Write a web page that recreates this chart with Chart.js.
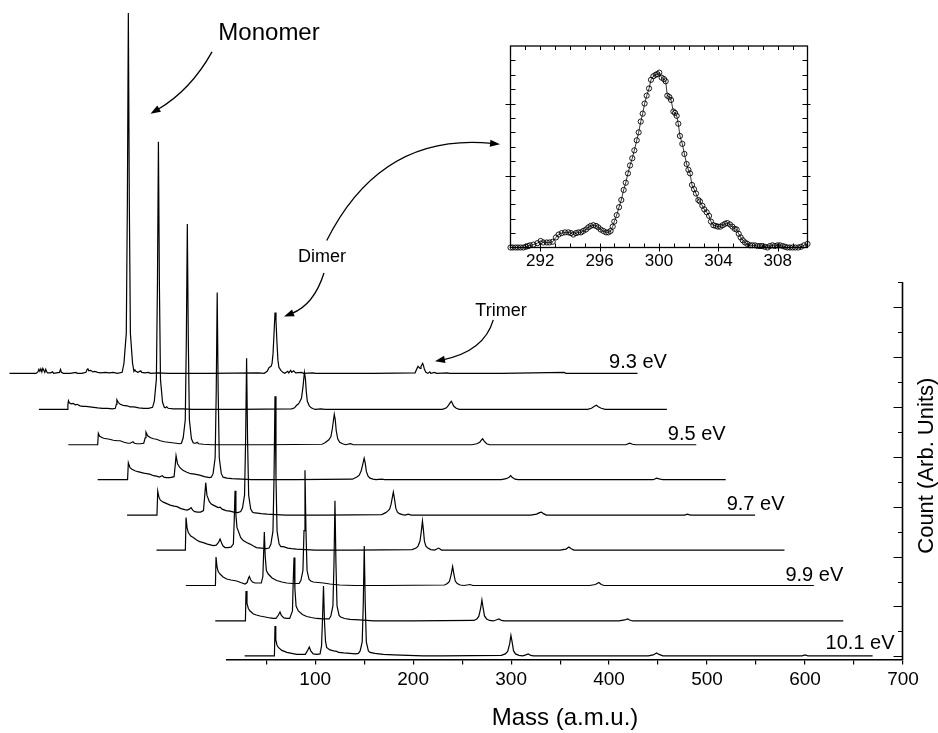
<!DOCTYPE html>
<html>
<head>
<meta charset="utf-8">
<script src="https://cdn.jsdelivr.net/npm/chart.js@4.4.1/dist/chart.umd.min.js"></script>
<style>
  body { margin: 0; background: #fff; }
  #wrap { position: relative; width: 938px; height: 733px; }
  #main { position: absolute; left: 0; top: 0; }
  #inset { position: absolute; left: 470px; top: 20px; }
</style>
</head>
<body>
<div id="wrap">
  <canvas id="main" width="938" height="733"></canvas>
  <canvas id="inset" width="360" height="265"></canvas>
</div>
<script>
// spectra, one list of [mass, count] per photon energy (bottom trace first)
const trace101 = [[28,0],[58.4,0],[59,60],[59.8,32],[61,22],[62.4,17],[66,11],[71.1,7],[76,5],[81.3,3],[86,3],[90,3],[92.5,12],[94,18],[95.5,10],[98,4],[102,3],[105,4],[106.5,20],[107.5,75],[108.5,140],[109.5,70],[110.5,30],[111.7,17],[115,12],[119,10],[122,9],[124,7],[129,6],[135.5,5],[141,4],[144.1,5],[145.9,10],[148,28],[149.1,105],[150.1,220],[151.1,105],[152.2,28],[154.3,10],[156,7],[161,5],[165,4],[169.5,3],[180,2],[195,1],[210,0],[230,0],[290,1],[294,4],[296.5,9],[298.5,24],[299.8,41],[301,28],[302.5,10],[304.5,4],[308,1],[312,0],[315,2],[317.5,4],[320,1],[323,0],[440,0],[445,2],[448.5,6],[451,3],[455,0],[597,0],[600,2],[603,0],[669,0]];
const trace100 = [[28,0],[58.8,0],[59.4,60],[60.4,35],[61.8,25],[63.5,20],[67,14],[70,12],[73.7,10],[79,8],[84,6],[87.2,5],[90,5],[92.5,12],[94.1,18],[95.5,11],[98,6],[101,5],[104,5],[106.8,20],[107.6,80],[108.4,127],[109.3,65],[110.5,30],[112.8,20],[117,13],[121.3,9],[126,7],[131.5,5],[138,4],[144.2,4],[146,10],[148.1,30],[149.2,115],[150.2,241],[151.2,115],[152.3,30],[154.4,11],[156,8],[160,5],[165.5,3],[175,2],[190,0],[230,0],[292,1],[295,4],[297,9],[299,26],[300.2,42],[301.3,28],[302.8,10],[305,4],[308,1],[312,0],[316,3],[317.6,4],[320,1],[323,0],[440,0],[446,2],[448.9,4],[451,2],[454,0],[669,0]];
const trace99 = [[28,0],[58.2,0],[58.8,57],[59.8,38],[61,28],[62.9,23],[66,17],[69.7,13],[74,11],[79.9,9],[84,6],[88.4,3],[90.5,6],[92,15],[92.8,18],[94,12],[96,7],[98.6,5],[102,5],[105,5],[106.6,18],[107.4,65],[108.1,107],[109,58],[110.2,30],[112.1,23],[116,15],[120.7,10],[126,7],[131,5],[137,4],[143.6,4],[145.4,10],[147.5,30],[148.6,110],[149.6,231],[150.6,110],[151.7,30],[153.8,12],[155.5,9],[158,7],[163,6],[168.3,5],[175,3],[185,1],[200,0],[230,0],[292,1],[295,4],[297,8],[298.8,22],[300.3,38],[301.5,24],[303,9],[305,4],[308,1],[312,0],[318,2],[321,0],[440,0],[446,2],[449.6,6],[452,2],[455,0],[669,0]];
const trace98 = [[28,0],[57.5,0],[58.2,65],[59.2,45],[60.5,35],[63,28],[65.6,25],[69,20],[72,17],[75.8,15],[80,12],[86,9],[89,10],[91.5,16],[92.9,22],[94.5,14],[96,8],[98,5],[101,5],[104,6],[106.5,12],[107.4,60],[108.2,119],[109.1,70],[110.2,45],[111.6,38],[114,25],[116.6,19],[120,15],[123.5,12],[127,8],[130,5],[135,4],[140,3],[143,4],[144.8,12],[146.9,38],[148,145],[149,308],[150,145],[151.1,38],[153.2,12],[155,7],[157.5,7],[162,4],[166,3],[171,2],[180,1],[190,0],[230,0],[289,1],[293,4],[295,8],[297,18],[298.5,40],[299.5,58],[300.5,40],[301.5,18],[303,8],[305,4],[308,1],[312,0],[316,4],[319,0],[440,0],[446,2],[449,6],[451,3],[454,0],[669,0]];
const trace97 = [[28,0],[58.5,0],[59.3,48],[60.5,36],[62,30],[65,26],[68.5,23],[72,20],[76,18],[79,17],[83,13],[87,11],[89.5,10],[91.5,12],[93.3,15],[95,10],[97,7],[100,6],[103,6],[106,9],[107.3,40],[108.3,65],[109.5,40],[112,27],[114,22],[116,20],[119,17],[121,15],[123,16],[125,12],[129,9],[133,8],[137,6],[141,5],[144,7],[145.8,14],[147.9,40],[149,150],[150,314],[151,150],[152.1,40],[154.2,12],[156,6],[157,5],[161,4],[165,3],[171,2],[180,1],[190,0],[230,0],[288,1],[292,5],[294,8],[296,12],[297.5,22],[299,38],[299.8,46],[301,32],[302.3,14],[304,6],[306,3],[309,1],[312,0],[315,2],[318,0],[440,0],[446,2],[449,5],[451,6],[453,3],[456,0],[597,0],[600,2],[603,0],[669,0]];
const trace96 = [[28,0],[58.5,0],[59.3,34],[61,24],[63,21],[66,18],[69,16],[71,15],[75,13],[78,12],[81,11],[85,8],[88,7],[91,5],[92.5,7],[94,8],[95.5,5],[98,4],[102,4],[106,6],[107.2,30],[108,48],[109.5,32],[112,24],[115,19],[119,15],[123,12],[127,11],[132,9],[137,6],[142,4],[144,5],[145.8,12],[147.9,44],[149,175],[150,375],[151,175],[152.1,44],[154.2,12],[156,5],[160,3],[165,2],[175,1],[185,0],[230,0],[288,1],[291,4],[293,6],[295,9],[297,18],[298.5,30],[300,43],[301,34],[302.3,16],[304,7],[306,3],[309,1],[312,0],[318,1],[321,0],[440,0],[445,2],[448,5],[449.5,8],[451,5],[454,1],[457,0],[595,0],[598.5,3],[602,1],[605,0],[669,0]];
const trace95 = [[28,0],[58,0],[58.7,23],[60,17],[62,15],[64,13],[67,12],[70,11],[74,9],[78,8],[81,8],[85,5],[89,3],[91,3],[93,5],[94,6],[95.5,3],[98,2],[102,2],[105,3],[106.5,14],[107.3,25],[109,18],[112,14],[115,12],[118,11],[122,8],[126,6],[130,5],[134,4],[138,3],[142,2],[143.5,3],[145.3,14],[147.4,50],[148.5,210],[149.5,442],[150.5,210],[151.6,50],[153.7,12],[155.5,4],[156.5,3],[158,3],[159.5,5],[161,2],[166,1],[175,0],[230,0],[287,1],[290,4],[292,7],[294,10],[296,16],[297.5,32],[299.5,61],[300.5,50],[301.5,28],[303,12],[305,5],[308,2],[311,0],[316,2],[319,0],[440,0],[445,2],[448,5],[450,10],[451,12],[452.5,7],[455,2],[458,0],[597,0],[601,3],[604,1],[607,0],[669,0]];
const trace94 = [[28,0],[57,0],[57.6,10],[58.2,17],[59,13],[61,11],[63,12],[65,9],[67,10],[70,7],[73,6],[76,6],[80,5],[84,4],[88,3],[93,2],[98,2],[103,1],[106,2],[107,10],[107.6,19],[109,14],[111,10],[114,8],[118,7],[121,5],[125,5],[130,3],[135,2],[140,2],[144,4],[145.8,16],[147.9,60],[149,250],[150,536],[151,250],[152.1,60],[154.2,14],[156,4],[157,3],[158.5,5],[160,2],[165,1],[175,1],[185,0],[230,0],[286,1],[289,3],[291,8],[292.5,10],[294,14],[296,22],[297.5,44],[299,74],[300,62],[301,34],[302,16],[304,7],[306,3],[308,1],[310,0],[316,1],[320,0],[440,0],[444,3],[446,8],[448,14],[449,16],[450,12],[451.5,6],[454,2],[457,0],[588,0],[592,2],[595,6],[597,8],[599,5],[602,2],[606,0],[669,0]];
const trace93 = [[28,0],[40,0],[55,0],[57,3],[58,8],[59,4],[60,9],[61,3],[62,10],[63,6],[64,2],[65,8],[66,3],[67,1],[70,1],[72,3],[73,0],[76,1],[79,2],[80,8],[81,2],[83,0],[90,0],[96,2],[97,0],[102,0],[106,2],[107,7],[108,9],[109,5],[111,6],[113,3],[115,4],[118,2],[121,1],[126,2],[130,1],[134,2],[138,0],[143,2],[144.8,20],[147.2,80],[148.3,340],[149.3,722],[150.3,340],[151.4,80],[153.6,20],[155,4],[156,7],[157,4],[159,2],[162,5],[163,2],[166,1],[170,2],[172,0],[180,1],[190,0],[230,0],[282,1],[288,0],[291,4],[293,12],[295,14],[296,20],[297,40],[298,80],[299,122],[300,106],[301,62],[302,26],[303,12],[305,6],[307,2],[309,0],[312,4],[313,1],[315,6],[316,2],[318,5],[320,1],[326,2],[328,0],[338,1],[340,0],[400,0],[442,1],[444,10],[445,14],[446,12],[447,10],[448,14],[449.7,20],[450.5,16],[451.5,8],[453,2],[455,0],[457,3],[458,0],[462,2],[464,0],[475,1],[477,0],[530,0],[594,2],[596,0],[669,0]];

const energies = ['10.1 eV', '10.0 eV', '9.9 eV', '9.8 eV', '9.7 eV', '9.6 eV', '9.5 eV', '9.4 eV', '9.3 eV'];
// waterfall offset of each trace (mass and count)
const massShift = [0, -30, -60, -90, -120, -150, -180, -210, -240];
const countShift = [1, 71, 142, 213, 283, 354, 424, 495, 567];
const massTicks = [50, 100, 150, 200, 250, 300, 350, 400, 450, 500, 550, 600, 650, 700];
const countTicks = [0, 50, 100, 150, 200, 250, 300, 350, 400, 450, 500, 550, 600, 650, 700, 750];

// inset: dimer peak, [mass, count]
const insetPeak = [[290.00,0],[290.15,0],[290.33,0],[290.50,0],[290.68,0],[290.86,0],[291.04,0.01],[291.18,0.02],[291.31,0.03],[291.54,0.04],[291.81,0.06],[292.03,0.09],[292.21,0.07],[292.44,0.07],[292.62,0.07],[292.84,0.08],[293.06,0.14],[293.24,0.18],[293.45,0.20],[293.67,0.21],[293.89,0.21],[294.07,0.20],[294.23,0.18],[294.41,0.20],[294.57,0.21],[294.75,0.21],[294.90,0.23],[295.08,0.25],[295.24,0.28],[295.40,0.30],[295.58,0.31],[295.76,0.30],[295.91,0.28],[296.07,0.25],[296.25,0.23],[296.43,0.21],[296.59,0.21],[296.74,0.23],[296.88,0.29],[296.99,0.36],[297.15,0.45],[297.31,0.56],[297.46,0.66],[297.62,0.80],[297.76,0.90],[297.91,1.03],[298.05,1.14],[298.20,1.24],[298.34,1.35],[298.50,1.49],[298.63,1.60],[298.77,1.75],[298.90,1.86],[299.03,2.00],[299.17,2.11],[299.33,2.21],[299.46,2.33],[299.62,2.38],[299.78,2.40],[299.89,2.41],[300.02,2.43],[300.18,2.36],[300.34,2.34],[300.45,2.31],[300.56,2.11],[300.70,2.09],[300.81,2.05],[300.97,1.89],[301.08,1.87],[301.19,1.83],[301.30,1.72],[301.41,1.55],[301.57,1.44],[301.71,1.30],[301.86,1.16],[301.98,1.08],[302.09,1.03],[302.22,0.87],[302.36,0.81],[302.49,0.75],[302.65,0.66],[302.76,0.64],[302.92,0.58],[303.05,0.53],[303.21,0.49],[303.37,0.44],[303.50,0.36],[303.66,0.31],[303.82,0.30],[303.97,0.29],[304.13,0.29],[304.29,0.31],[304.45,0.33],[304.60,0.34],[304.78,0.32],[304.94,0.29],[305.10,0.26],[305.23,0.25],[305.37,0.19],[305.50,0.14],[305.64,0.10],[305.79,0.07],[305.95,0.05],[306.13,0.03],[306.28,0.03],[306.46,0.03],[306.64,0.02],[306.80,0.02],[306.95,0.02],[307.13,0.01],[307.31,0.00],[307.46,0.02],[307.64,0.03],[307.80,0.02],[307.98,0.03],[308.14,0.03],[308.33,0.02],[308.49,0.01],[308.64,0],[308.82,0],[309.00,0],[309.18,0],[309.38,0],[309.56,0.01],[309.76,0.03],[310.00,0.05]];
const insetLabels = [292, 296, 300, 304, 308];

const traces = [trace101, trace100, trace99, trace98, trace97, trace96, trace95, trace94, trace93];

Chart.defaults.font.family = "'Liberation Sans', Arial, sans-serif";
Chart.defaults.color = '#000';

// which energies get a label, where it sits along its own trace
const energyLabels = [
  { trace: 0, mass: 621, lift: 13 },
  { trace: 2, mass: 640, lift: 10 },
  { trace: 4, mass: 640, lift: 10 },
  { trace: 6, mass: 640, lift: 10 },
  { trace: 8, mass: 640, lift: 10 }
];

// annotations, in (mass, count) of the main axes
const notes = [
  { text: 'Monomer', at: [52.9, 1235], size: 24 },
  { text: 'Dimer', at: [107, 790], size: 18 },
  { text: 'Trimer', at: [289.7, 682], size: 18 }
];
const arrows = [
  [[-5.3, 1211], [-27.2, 1134], [-68.1, 1087]],
  [[109, 768], [98.7, 704], [68.2, 681]],
  [[111.8, 833], [167.2, 1050], [288.7, 1026]],
  [[281.8, 674], [272.5, 611], [222.3, 591]]
];

function drawArrow(ctx, xs, ys, a) {
  const p = a.map(([m, c]) => [xs.getPixelForValue(m), ys.getPixelForValue(c)]);
  const ang = Math.atan2(p[2][1] - p[1][1], p[2][0] - p[1][0]);
  const len = 10, half = 3.6;
  const bx = p[2][0] - (len - 2) * Math.cos(ang), by = p[2][1] - (len - 2) * Math.sin(ang);
  ctx.beginPath();
  ctx.moveTo(p[0][0], p[0][1]);
  ctx.quadraticCurveTo(p[1][0], p[1][1], bx, by);
  ctx.stroke();
  const ex = p[2][0] - len * Math.cos(ang), ey = p[2][1] - len * Math.sin(ang);
  ctx.beginPath();
  ctx.moveTo(p[2][0], p[2][1]);
  ctx.lineTo(ex + half * Math.sin(ang), ey - half * Math.cos(ang));
  ctx.lineTo(ex - half * Math.sin(ang), ey + half * Math.cos(ang));
  ctx.closePath();
  ctx.fill();
}

const overlay = {
  id: 'overlay',
  afterDatasetsDraw(chart) {
    const { ctx, chartArea, scales: { x, y } } = chart;
    ctx.save();
    ctx.strokeStyle = '#000';
    ctx.fillStyle = '#000';

    // right count axis, ticks pointing inwards
    const ax = chartArea.right - 0.5;
    ctx.lineWidth = 1.6;
    ctx.beginPath();
    ctx.moveTo(ax, y.getPixelForValue(-6));
    ctx.lineTo(ax, y.getPixelForValue(750));
    ctx.stroke();
    ctx.lineWidth = 1.2;
    ctx.beginPath();
    countTicks.forEach(v => {
      const py = Math.round(y.getPixelForValue(v)) + 0.5;
      const l = v % 100 === 0 ? 9 : 4.5;
      ctx.moveTo(ax, py);
      ctx.lineTo(ax - l, py);
    });
    ctx.stroke();

    // y title
    ctx.save();
    ctx.translate(chartArea.right + 24, y.getPixelForValue(382));
    ctx.rotate(-Math.PI / 2);
    ctx.font = "22px 'Liberation Sans', Arial, sans-serif";
    ctx.textAlign = 'center';
    ctx.textBaseline = 'middle';
    ctx.fillText('Count (Arb. Units)', 0, 0);
    ctx.restore();

    // energy labels
    ctx.font = "20px 'Liberation Sans', Arial, sans-serif";
    ctx.textAlign = 'left';
    ctx.textBaseline = 'alphabetic';
    energyLabels.forEach(l => {
      ctx.fillText(energies[l.trace],
        x.getPixelForValue(l.mass + massShift[l.trace]),
        y.getPixelForValue(countShift[l.trace] + l.lift));
    });

    // notes and arrows
    ctx.textAlign = 'center';
    notes.forEach(n => {
      ctx.font = n.size + "px 'Liberation Sans', Arial, sans-serif";
      ctx.fillText(n.text, x.getPixelForValue(n.at[0]), y.getPixelForValue(n.at[1]));
    });
    ctx.lineWidth = 1.3;
    arrows.forEach(a => drawArrow(ctx, x, y, a));
    ctx.restore();
  }
};

new Chart(document.getElementById('main'), {
  type: 'line',
  data: {
    datasets: traces.map((pts, j) => ({
      label: energies[j],
      data: pts.map(([m, c]) => ({ x: m + massShift[j], y: c + countShift[j] })),
      borderColor: '#000',
      borderWidth: 1.2,
      pointRadius: 0,
      fill: false,
      tension: 0,
      clip: false
    }))
  },
  options: {
    responsive: false,
    animation: false,
    events: [],
    layout: { padding: { left: 227, right: 35, top: 282, bottom: 0 } },
    plugins: { legend: { display: false }, tooltip: { enabled: false } },
    scales: {
      x: {
        type: 'linear',
        position: 'bottom',
        bounds: 'data',
        afterDataLimits: s => { s.min = 10; s.max = 700; },
        afterBuildTicks: s => { s.ticks = massTicks.map(v => ({ value: v })); },
        ticks: {
          autoSkip: false, maxRotation: 0, padding: 4,
          font: { size: 19 }, color: '#000',
          callback: v => (v % 100 === 0 ? String(v) : '')
        },
        grid: { drawOnChartArea: false, drawTicks: true, tickLength: 5, color: '#000', lineWidth: 1.2 },
        border: { display: true, color: '#000', width: 1.6 },
        title: { display: true, text: 'Mass (a.m.u.)', font: { size: 24 }, color: '#000', padding: { top: 9, bottom: 0 } }
      },
      y: {
        type: 'linear',
        display: false,
        bounds: 'data',
        afterDataLimits: s => { s.min = -6; s.max = 750; }
      }
    }
  },
  plugins: [overlay]
});

// inset frame with ticks on all four sides
const insetFrame = {
  id: 'insetFrame',
  beforeDatasetsDraw(chart) {
    const { ctx, chartArea: a, scales: { x, y } } = chart;
    ctx.save();
    ctx.strokeStyle = '#000';
    ctx.fillStyle = '#000';
    ctx.lineWidth = 1.3;
    ctx.strokeRect(a.left, a.top, a.right - a.left, a.bottom - a.top);
    ctx.lineWidth = 1;
    ctx.beginPath();
    for (let v = 291; v <= 309; v++) {
      const px = Math.round(x.getPixelForValue(v)) + 0.5;
      const major = insetLabels.includes(v);
      ctx.moveTo(px, a.bottom + (major ? 4 : 0));
      ctx.lineTo(px, a.bottom - 4);
      ctx.moveTo(px, a.top);
      ctx.lineTo(px, a.top + 4);
    }
    for (let k = 1; k <= 13; k++) {
      const v = k * 0.2;
      const py = Math.round(y.getPixelForValue(v)) + 0.5;
      const major = k % 5 === 0;
      ctx.moveTo(a.left - (major ? 5 : 0), py);
      ctx.lineTo(a.left + 5, py);
      ctx.moveTo(a.right + (major ? 3 : 0), py);
      ctx.lineTo(a.right - 5, py);
    }
    ctx.stroke();
    ctx.font = "17px 'Liberation Sans', Arial, sans-serif";
    ctx.textAlign = 'center';
    ctx.textBaseline = 'top';
    insetLabels.forEach(v => ctx.fillText(String(v), x.getPixelForValue(v), a.bottom + 5));
    ctx.restore();
  }
};

new Chart(document.getElementById('inset'), {
  type: 'line',
  data: {
    datasets: [{
      data: insetPeak.map(([m, c]) => ({ x: m, y: c })),
      borderColor: '#000',
      borderWidth: 0.8,
      pointRadius: 2.6,
      pointBorderWidth: 0.9,
      pointBorderColor: '#000',
      pointBackgroundColor: 'rgba(255,255,255,0)',
      tension: 0,
      clip: false
    }]
  },
  options: {
    responsive: false,
    animation: false,
    events: [],
    layout: { padding: { left: 40.5, right: 22.5, top: 26, bottom: 37.5 } },
    plugins: { legend: { display: false }, tooltip: { enabled: false } },
    scales: {
      x: { type: 'linear', min: 290, max: 310, display: false },
      y: { type: 'linear', min: 0, max: 2.8, display: false }
    }
  },
  plugins: [insetFrame]
});
</script>
</body>
</html>
